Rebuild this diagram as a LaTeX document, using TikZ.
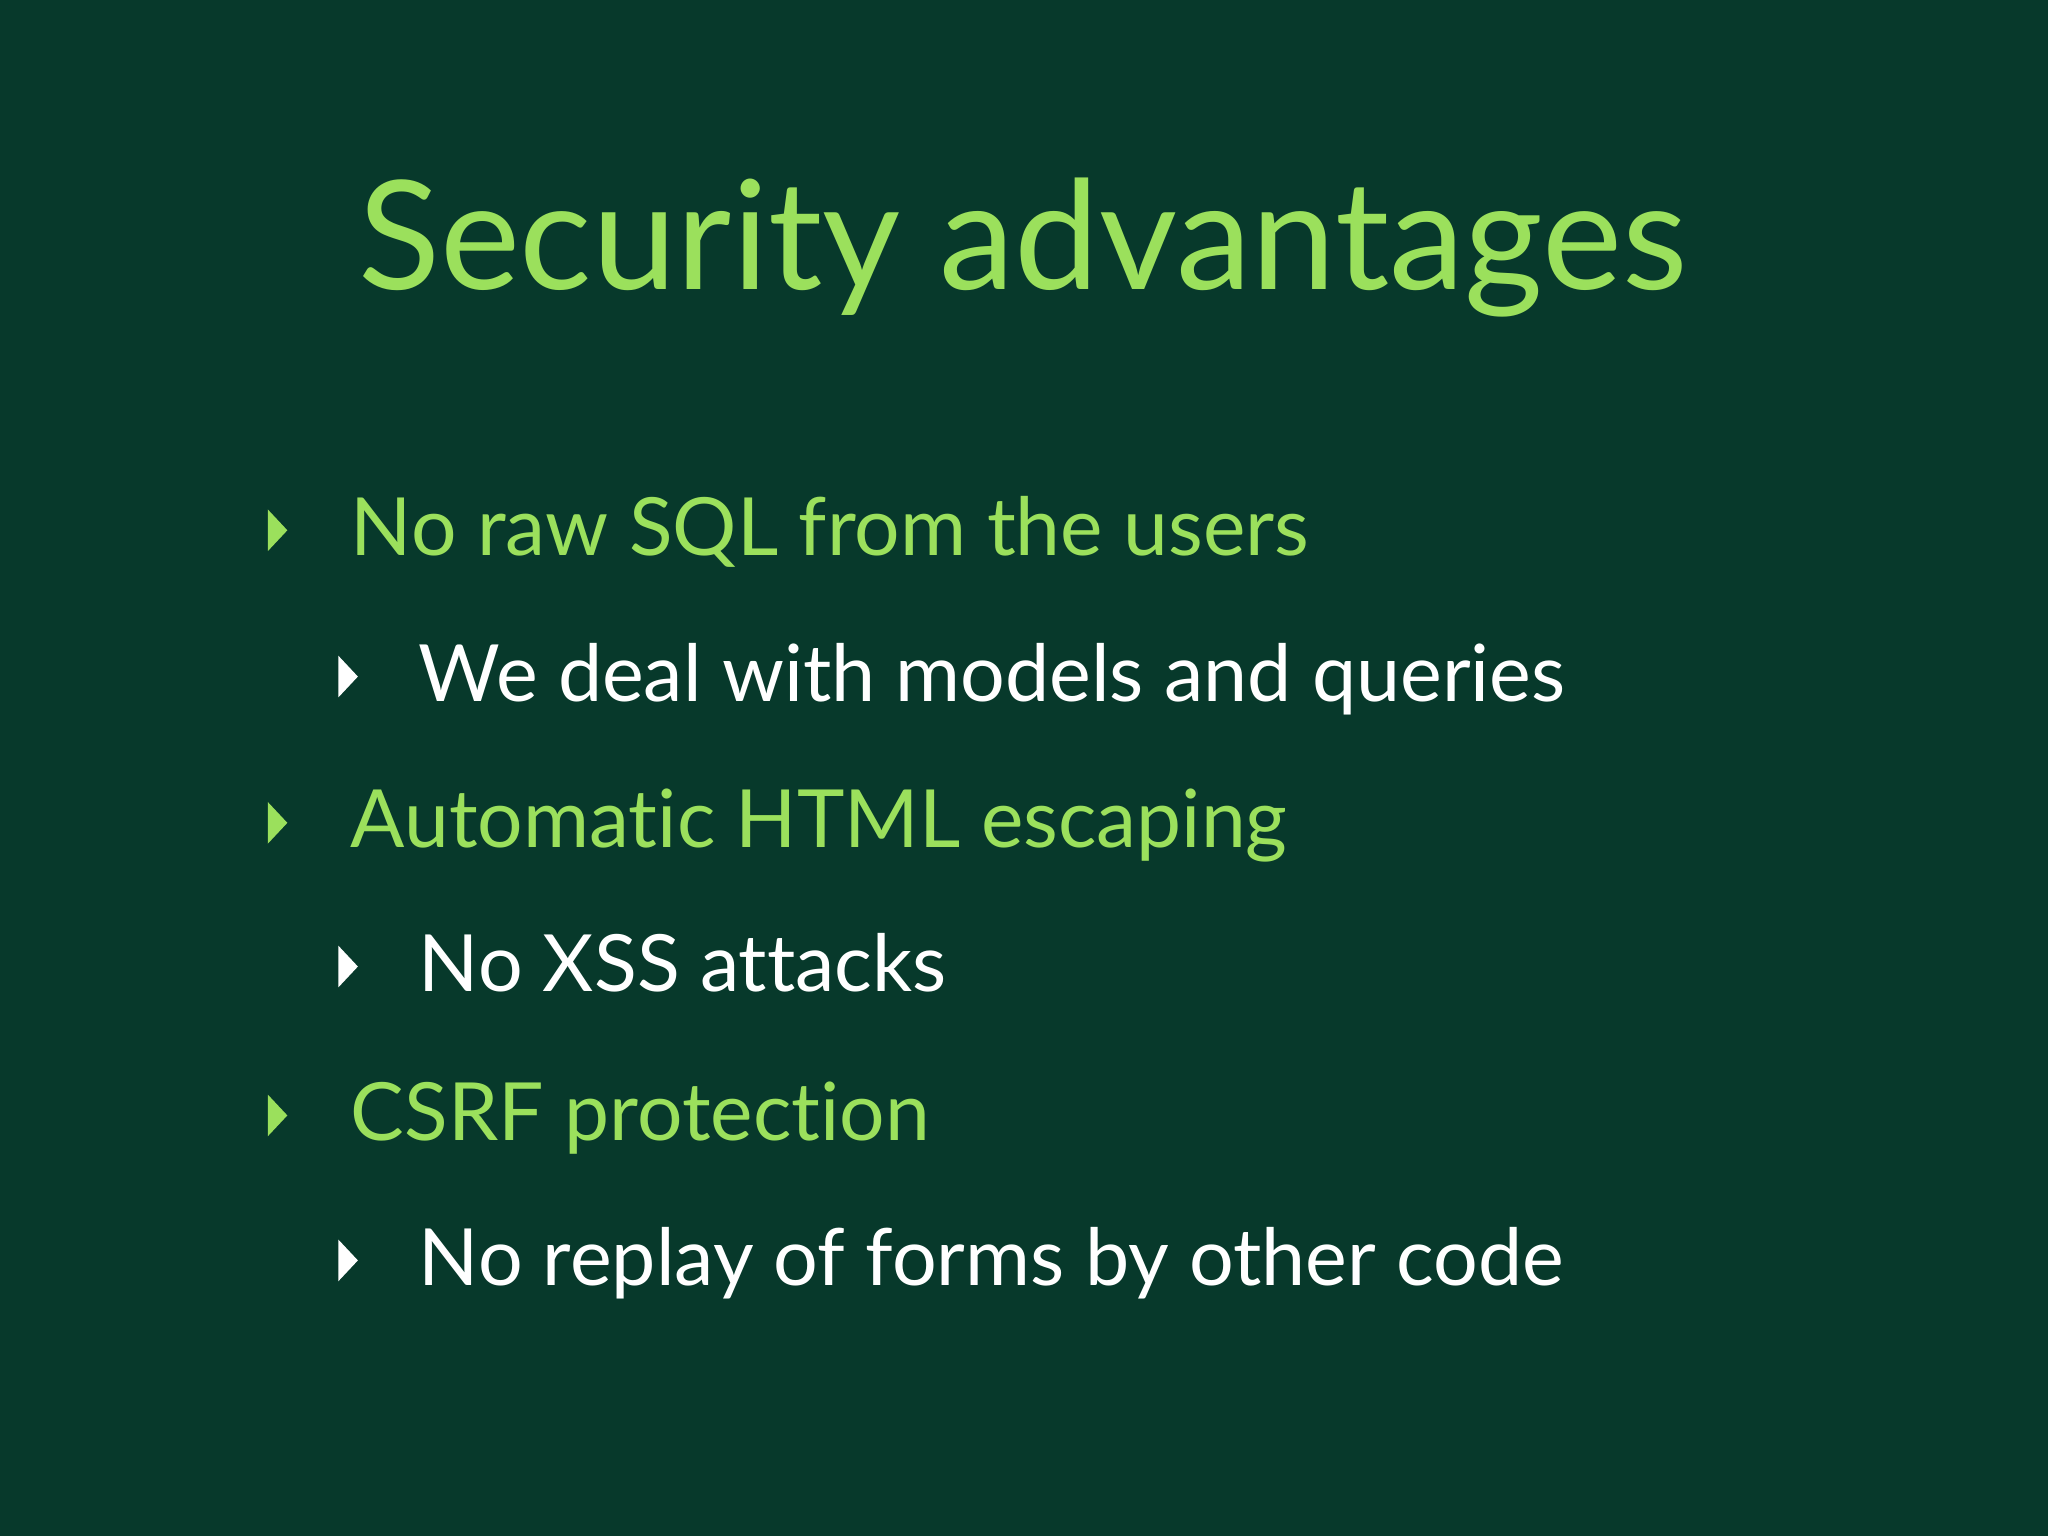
\documentclass[tikz,border=0pt]{standalone}
\usepackage{fontspec}
\setmainfont[Ligatures=NoCommon]{Lato}
\definecolor{bg}{HTML}{07392B}
\definecolor{lg}{HTML}{9BE05C}
\tikzset{
 lone/.style={anchor=base west,text=lg,font=\fontsize{17.5pt}{20pt}\selectfont,inner sep=0},
 ltwo/.style={anchor=base west,text=white,font=\fontsize{17.2pt}{20pt}\selectfont,inner sep=0},
}
\newcommand{\tri}[3]{\fill[#3] (#1,#2+0.16) -- (#1+0.15,#2) -- (#1,#2-0.16) -- cycle;}
\begin{document}
\begin{tikzpicture}[x=1cm,y=-1cm]
\fill[bg] (0,0) rectangle (15.68,11.76);
\useasboundingbox (0,0) rectangle (15.68,11.76);
\node[anchor=base,text=lg,font=\fontsize{33pt}{36pt}\selectfont,inner sep=0] (title) at (7.83,2.22) {Security advantages};
\node[lone] (a) at (2.68,4.25) {No raw SQL from the users};
\node[ltwo] (b) at (3.20,5.37) {We deal with models and queries};
\node[lone] (c) at (2.68,6.49) {Automatic HTML escaping};
\node[ltwo] (d) at (3.20,7.59) {No XSS attacks};
\node[lone] (e) at (2.68,8.73) {CSRF protection};
\node[ltwo] (f) at (3.20,9.84) {No replay of forms by other code};
\tri{2.05}{4.06}{lg}
\tri{2.59}{5.18}{white}
\tri{2.05}{6.30}{lg}
\tri{2.59}{7.40}{white}
\tri{2.05}{8.54}{lg}
\tri{2.59}{9.65}{white}
\end{tikzpicture}
\end{document}
